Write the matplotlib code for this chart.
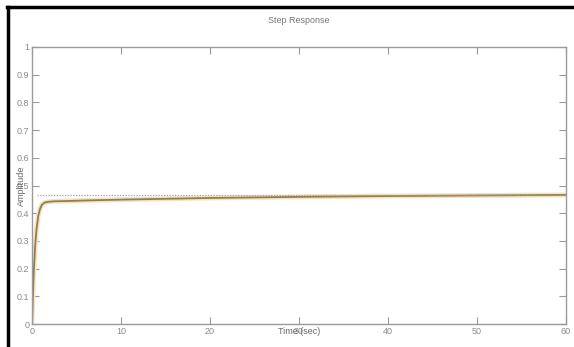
import matplotlib
matplotlib.use("Agg")
import matplotlib.pyplot as plt
from matplotlib.lines import Line2D

# step response values
time_s = [0, 0.1, 0.2, 0.35, 0.5, 0.7, 0.9, 1.1, 1.4, 1.8, 2.5, 4, 6, 10, 15, 20, 30, 40, 50, 60]
amplitude = [0, 0.10, 0.19, 0.28, 0.34, 0.39, 0.415, 0.43, 0.438, 0.441, 0.443, 0.444, 0.446,
             0.449, 0.452, 0.455, 0.459, 0.462, 0.464, 0.466]
final_value = 0.466
xticks = [0, 10, 20, 30, 40, 50, 60]
yticks = [0, 0.1, 0.2, 0.3, 0.4, 0.5, 0.6, 0.7, 0.8, 0.9, 1]
ytick_labels = ["0", "0.1", "0.2", "0.3", "0.4", "0.5", "0.6", "0.7", "0.8", "0.9", "1"]

plt.rcParams["font.family"] = ["Liberation Sans", "DejaVu Sans"]

fig = plt.figure(figsize=(5.74, 3.47), dpi=100)
ax = fig.add_axes([32 / 574, 1 - 324 / 347, (566 - 32) / 574, (324 - 47) / 347])

grey = "#9a9a9a"
ax.plot(time_s, amplitude, color="#f8e2bc", lw=3.5, solid_capstyle="round")
ax.plot(time_s, amplitude, color="#8f7f52", lw=1.3)
ax.plot([0.6, 60], [final_value, final_value], color="#a89ab8", lw=0.9, ls=(0, (1, 1.2)))

ax.set_xlim(0, 60)
ax.set_ylim(0, 1)
ax.set_xticks(xticks)
ax.set_yticks(yticks)
ax.set_yticklabels(ytick_labels)
ax.tick_params(direction="in", length=5, width=0.8, color=grey, labelcolor="#8a8a8a",
               labelsize=6.5, top=True, right=True, pad=2)
for s in ax.spines.values():
    s.set_color(grey)
    s.set_linewidth(1.0)

ax.set_title("Step Response", fontsize=6.5, color="#777777", pad=17)
ax.set_xlabel("Time (sec)", fontsize=6.5, color="#666666", labelpad=-6)
ax.set_ylabel("Amplitude", fontsize=6.5, color="#666666", labelpad=-7)

# black frame from the screenshot (top and left edges)
fig.add_artist(Line2D([7 / 574, 1], [1 - 7 / 347, 1 - 7 / 347], color="black", lw=2.5,
                      transform=fig.transFigure))
fig.add_artist(Line2D([7.5 / 574, 7.5 / 574], [0, 1 - 7 / 347], color="black", lw=2.5,
                      transform=fig.transFigure))

fig.savefig("out.png", dpi=100)
